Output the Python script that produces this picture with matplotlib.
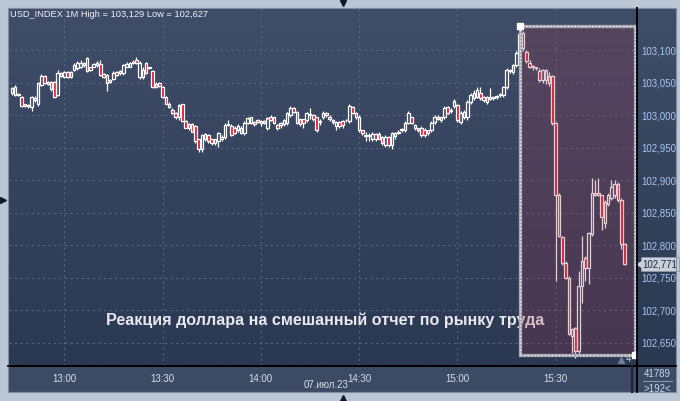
import numpy as np
import matplotlib.pyplot as plt
import matplotlib.patches as patches
import matplotlib.transforms as mtransforms
from matplotlib.colors import LinearSegmentedColormap
from matplotlib.lines import Line2D
from matplotlib.ticker import FuncFormatter

plt.rcParams['font.family'] = ['Liberation Sans', 'DejaVu Sans']

#___1 minute candles, USD_INDEX, 12:44 .. 15:51___#
opens = [
    103.034, 103.043, 103.032, 103.028, 103.017, 103.015, 103.012, 103.026, 103.018, 103.046,
    103.060, 103.051, 103.051, 103.051, 103.031, 103.065, 103.059, 103.066, 103.066, 103.069,
    103.072, 103.074, 103.077, 103.088, 103.074, 103.075, 103.080, 103.079, 103.063, 103.062,
    103.054, 103.056, 103.066, 103.065, 103.065, 103.075, 103.075, 103.080, 103.085, 103.059,
    103.059, 103.080, 103.074, 103.068, 103.048, 103.049, 103.043, 103.028, 103.018, 103.008,
    103.003, 102.997, 103.017, 102.991, 102.986, 102.986, 102.983, 102.963, 102.948, 102.971,
    102.969, 102.963, 102.963, 102.961, 102.966, 102.966, 102.985, 102.983, 102.981, 102.978,
    102.980, 102.972, 102.988, 102.997, 102.989, 102.992, 102.991, 102.991, 102.981, 102.997,
    102.997, 102.985, 102.985, 102.986, 102.988, 103.000, 103.011, 103.005, 102.994, 102.994,
    102.992, 103.000, 103.000, 102.997, 102.991, 102.997, 103.003, 102.998, 102.992, 102.983,
    102.989, 102.991, 102.992, 102.991, 103.012, 103.003, 102.998, 102.977, 102.969, 102.969,
    102.963, 102.971, 102.971, 102.966, 102.954, 102.966, 102.954, 102.972, 102.974, 102.977,
    102.977, 102.988, 102.997, 102.985, 102.980, 102.980, 102.977, 102.977, 102.978, 102.989,
    102.998, 102.997, 102.997, 103.012, 103.006, 103.014, 103.015, 102.989, 102.997, 102.997,
    103.020, 103.026, 103.028, 103.035, 103.028, 103.028, 103.025, 103.026, 103.028, 103.031,
    103.031, 103.043, 103.068, 103.066, 103.077, 103.096, 103.126, 103.097, 103.080, 103.075,
    103.074, 103.068, 103.054, 103.054, 103.060, 103.060, 102.988, 102.878, 102.812, 102.773,
    102.750, 102.661, 102.673, 102.637, 102.738, 102.781, 102.765, 102.818, 102.880, 102.880,
    102.877, 102.835, 102.864, 102.872, 102.877, 102.894, 102.870, 102.802]
highs = [
    103.043, 103.046, 103.034, 103.029, 103.018, 103.017, 103.029, 103.029, 103.051, 103.063,
    103.062, 103.052, 103.052, 103.052, 103.069, 103.066, 103.068, 103.068, 103.068, 103.080,
    103.083, 103.085, 103.082, 103.090, 103.075, 103.080, 103.083, 103.085, 103.065, 103.063,
    103.056, 103.068, 103.068, 103.069, 103.079, 103.082, 103.082, 103.085, 103.090, 103.083,
    103.074, 103.082, 103.075, 103.069, 103.051, 103.051, 103.045, 103.029, 103.020, 103.011,
    103.005, 103.017, 103.018, 102.992, 102.988, 102.988, 102.985, 102.964, 102.971, 102.972,
    102.971, 102.964, 102.964, 102.974, 102.969, 102.988, 102.992, 102.986, 102.983, 102.986,
    102.983, 102.991, 102.998, 102.998, 102.991, 102.994, 102.992, 102.992, 102.998, 103.000,
    102.998, 102.986, 102.989, 102.994, 103.005, 103.014, 103.012, 103.006, 102.995, 102.995,
    103.005, 103.011, 103.002, 102.998, 102.994, 103.006, 103.005, 103.000, 102.994, 102.991,
    102.991, 102.992, 102.995, 103.017, 103.014, 103.005, 103.000, 102.978, 102.974, 102.972,
    102.974, 102.972, 102.974, 102.968, 102.969, 102.968, 102.975, 102.974, 102.977, 102.980,
    102.991, 103.006, 102.998, 102.986, 102.981, 102.983, 102.980, 102.978, 102.991, 103.000,
    103.000, 102.998, 103.014, 103.014, 103.011, 103.025, 103.017, 103.006, 103.008, 103.023,
    103.035, 103.039, 103.043, 103.043, 103.029, 103.029, 103.042, 103.029, 103.031, 103.034,
    103.045, 103.072, 103.071, 103.079, 103.099, 103.129, 103.129, 103.100, 103.085, 103.077,
    103.075, 103.072, 103.071, 103.071, 103.066, 103.062, 102.989, 102.880, 102.815, 102.776,
    102.752, 102.673, 102.675, 102.761, 102.815, 102.783, 102.821, 102.903, 102.900, 102.903,
    102.878, 102.869, 102.881, 102.900, 102.901, 102.898, 102.872, 102.803]
lows = [
    103.031, 103.029, 103.029, 103.012, 103.012, 103.011, 103.006, 103.020, 103.015, 103.045,
    103.048, 103.046, 103.038, 103.026, 103.029, 103.059, 103.057, 103.057, 103.057, 103.068,
    103.069, 103.072, 103.075, 103.066, 103.068, 103.074, 103.075, 103.060, 103.057, 103.037,
    103.049, 103.054, 103.060, 103.062, 103.062, 103.074, 103.074, 103.079, 103.079, 103.056,
    103.056, 103.063, 103.071, 103.042, 103.042, 103.043, 103.026, 103.017, 103.011, 103.002,
    102.995, 102.992, 102.989, 102.980, 102.978, 102.974, 102.957, 102.944, 102.944, 102.961,
    102.958, 102.954, 102.955, 102.951, 102.961, 102.963, 102.983, 102.968, 102.971, 102.975,
    102.971, 102.969, 102.986, 102.986, 102.983, 102.988, 102.983, 102.986, 102.978, 102.991,
    102.986, 102.978, 102.981, 102.983, 102.985, 102.998, 103.003, 102.986, 102.983, 102.981,
    102.989, 102.995, 102.991, 102.975, 102.985, 102.994, 102.998, 102.991, 102.986, 102.978,
    102.981, 102.981, 102.989, 102.988, 103.002, 102.995, 102.975, 102.969, 102.960, 102.961,
    102.960, 102.960, 102.963, 102.954, 102.951, 102.951, 102.948, 102.963, 102.971, 102.974,
    102.975, 102.986, 102.986, 102.978, 102.975, 102.966, 102.966, 102.969, 102.975, 102.986,
    102.992, 102.989, 102.994, 103.002, 103.003, 103.011, 102.989, 102.986, 102.994, 102.992,
    103.017, 103.023, 103.026, 103.023, 103.020, 103.017, 103.023, 103.023, 103.025, 103.028,
    103.028, 103.040, 103.065, 103.063, 103.074, 103.094, 103.099, 103.080, 103.072, 103.069,
    103.069, 103.051, 103.049, 103.048, 103.045, 102.985, 102.745, 102.812, 102.770, 102.748,
    102.662, 102.634, 102.627, 102.630, 102.711, 102.745, 102.741, 102.815, 102.876, 102.876,
    102.823, 102.827, 102.861, 102.869, 102.872, 102.866, 102.795, 102.770]
closes = [
    103.042, 103.031, 103.031, 103.015, 103.014, 103.014, 103.028, 103.023, 103.049, 103.060,
    103.049, 103.048, 103.040, 103.028, 103.065, 103.060, 103.066, 103.059, 103.059, 103.077,
    103.080, 103.080, 103.080, 103.068, 103.069, 103.079, 103.077, 103.062, 103.059, 103.049,
    103.051, 103.065, 103.062, 103.068, 103.077, 103.079, 103.080, 103.082, 103.080, 103.080,
    103.069, 103.065, 103.072, 103.043, 103.043, 103.045, 103.028, 103.018, 103.012, 103.003,
    102.998, 103.015, 102.991, 102.981, 102.981, 102.975, 102.960, 102.948, 102.969, 102.963,
    102.960, 102.957, 102.958, 102.972, 102.964, 102.985, 102.985, 102.969, 102.972, 102.983,
    102.972, 102.988, 102.995, 102.988, 102.986, 102.989, 102.988, 102.988, 102.995, 102.992,
    102.988, 102.980, 102.988, 102.992, 103.003, 103.011, 103.005, 102.988, 102.986, 102.988,
    103.003, 103.000, 102.995, 102.978, 102.989, 103.003, 103.000, 102.995, 102.989, 102.989,
    102.983, 102.985, 102.992, 103.014, 103.003, 102.998, 102.977, 102.972, 102.968, 102.968,
    102.971, 102.963, 102.964, 102.957, 102.966, 102.954, 102.972, 102.968, 102.972, 102.977,
    102.988, 103.003, 102.988, 102.981, 102.977, 102.969, 102.969, 102.972, 102.988, 102.997,
    102.995, 102.992, 103.011, 103.003, 103.008, 103.022, 102.992, 103.003, 103.005, 103.020,
    103.031, 103.035, 103.039, 103.026, 103.023, 103.020, 103.028, 103.028, 103.029, 103.032,
    103.043, 103.069, 103.069, 103.077, 103.096, 103.125, 103.103, 103.083, 103.075, 103.074,
    103.072, 103.054, 103.069, 103.069, 103.049, 102.988, 102.878, 102.815, 102.772, 102.750,
    102.664, 102.671, 102.637, 102.738, 102.776, 102.765, 102.819, 102.880, 102.877, 102.877,
    102.843, 102.866, 102.878, 102.889, 102.894, 102.869, 102.802, 102.771]

first_minute = -16 # first candle 12:44, minutes counted from 13:00
time_ticks = [0, 30, 60, 90, 120, 150]
time_labels = ["13:00", "13:30", "14:00", "14:30", "15:00", "15:30"]
price_ticks = [102.65, 102.70, 102.75, 102.80, 102.85, 102.90, 102.95, 103.00, 103.05, 103.10]

title_text = "USD_INDEX 1M High = 103,129 Low = 102,627"
note_text = "Реакция доллара на смешанный отчет по рынку труда"
date_text = "07.июл.23"

o = np.array(opens); h = np.array(highs); l = np.array(lows); c = np.array(closes)
x = np.arange(len(c)) + first_minute

W, H = 680, 401
fig = plt.figure(figsize=(W / 100, H / 100), dpi=100, facecolor="#bcc7d6")

def box(x0, y0, x1, y1): # pixel box (from top left) -> figure fraction
    return [x0 / W, 1 - y1 / H, (x1 - x0) / W, (y1 - y0) / H]

#___background panels___#
bg = fig.add_axes(box(8, 8, 676, 365))
cmap = LinearSegmentedColormap.from_list("bg", ["#3f4d68", "#2b3852"])
bg.imshow(np.linspace(0, 1, 256)[:, None], aspect="auto", cmap=cmap, extent=[0, 1, 0, 1])
bg.axis("off")

band = fig.add_axes(box(8, 365, 676, 392))
band.set_facecolor("#3d4a64")
band.set_xticks([]); band.set_yticks([])
for s in band.spines.values():
    s.set_visible(False)

#___main chart___#
ax = fig.add_axes(box(9, 8, 637, 365.5))
ax.set_facecolor("none")
ax.set_xlim(-16.87, 174.8)
ax.set_ylim(102.615, 103.165)

ax.set_xticks(time_ticks)
ax.set_xticklabels(time_labels)
ax.set_yticks(price_ticks)
ax.yaxis.set_major_formatter(FuncFormatter(lambda v, p: f"{v:.3f}".replace(".", ",")))
ax.yaxis.tick_right()
ax.tick_params(axis="x", length=0, pad=6, labelsize=7, labelcolor="#d6deea")
ax.tick_params(axis="y", length=0, pad=3, labelsize=7, labelcolor="#a6c6ee")
ax.grid(True, color="#56647f", linestyle=(0, (2, 3)), linewidth=0.8, zorder=0)
for side in ["top", "left"]:
    ax.spines[side].set_visible(False)
ax.spines["right"].set_color("black"); ax.spines["right"].set_linewidth(1.3)
ax.spines["bottom"].set_color("black"); ax.spines["bottom"].set_linewidth(1.3)

#___candles___#
up = c >= o
body_lo = np.minimum(o, c)
body_hi = np.maximum(o, c)
ax.vlines(x, l, body_lo, color="white", linewidth=0.9, zorder=2)
ax.vlines(x, body_hi, h, color="white", linewidth=0.9, zorder=2)
ax.bar(x, np.maximum(body_hi - body_lo, 0.0014), bottom=body_lo, width=0.78,
       color=["none" if u else "#e3122e" for u in up], edgecolor="white", linewidth=0.9, zorder=3)

ax.text(12.7, 102.685, note_text, fontsize=11.6, fontweight="bold", color="#e6e8ee", va="center", zorder=4)

#___highlighted reaction window___#
peak = int(np.argmax(h))
x0, x1 = x[peak], x[-1] + 3.2
y0, y1 = l.min() + 0.004, h.max() + 0.009
ax.add_patch(patches.Rectangle((x0, y0), x1 - x0, y1 - y0, facecolor="#a0324a", alpha=0.24, edgecolor="none", zorder=5))
ax.add_patch(patches.Rectangle((x0, y0), x1 - x0, y1 - y0, facecolor="none", edgecolor="#a4a4ac", linewidth=2.4, zorder=6))
ax.add_patch(patches.Rectangle((x0, y0), x1 - x0, y1 - y0, facecolor="none", edgecolor="#f0f0f0", linewidth=1.0, linestyle=(0, (1, 1.5)), zorder=7))
ax.plot([x0, x1], [y1, y0], linestyle="none", marker="s", markersize=4.5, color="white", zorder=8)

#___last price tag___#
tr = mtransforms.blended_transform_factory(ax.transAxes, ax.transData)
ax.text(1.009, c[-1], f"{c[-1]:.3f}".replace(".", ","), transform=tr, fontsize=7, color="#1e2838",
        ha="left", va="center", zorder=9, clip_on=False,
        bbox=dict(boxstyle="square,pad=0.18", facecolor="#c9d0da", edgecolor="#8a98ae", linewidth=0.6))
ax.plot([1.003], [c[-1]], transform=tr, marker="<", markersize=5, color="#c9d0da", clip_on=False, zorder=9)

#___frame bits___#
fig.add_artist(Line2D([637 / W, 637 / W], [1 - 8 / H, 1 - 392 / H], color="black", linewidth=1.3))
fig.add_artist(Line2D([8 / W, 676 / W], [1 - 365.5 / H, 1 - 365.5 / H], color="black", linewidth=1.3))
fig.add_artist(Line2D([632 / W, 632 / W], [1 - 366 / H, 1 - 392 / H], color="#1d2535", linewidth=1.6))
fig.add_artist(patches.Rectangle((8 / W, 1 - 392 / H), 668 / W, 384 / H, transform=fig.transFigure,
                                 facecolor="none", edgecolor="#7f8da3", linewidth=0.8))
fig.add_artist(Line2D([643 / W, 672 / W], [1 - 381 / H, 1 - 381 / H], color="#8898b0", linewidth=0.8))
fig.text(657 / W, 1 - 374 / H, "41789", fontsize=7, color="#c6d6ee", ha="center", va="center")
fig.text(657 / W, 1 - 389 / H, ">192<", fontsize=7, color="#c6d6ee", ha="center", va="center")
fig.text(304 / W, 1 - 385 / H, date_text, fontsize=7, color="#d6deea", ha="left", va="center")
fig.text(10 / W, 1 - 14.5 / H, title_text, fontsize=6.7, color="#f2f4f8", ha="left", va="center")
fig.text(629 / W, 1 - 359 / H, "4", fontsize=7, color="#c6d0e0", ha="center", va="center")
fig.add_artist(Line2D([621 / W], [1 - 360 / H], marker="^", markersize=4, color="#6d7d96", linestyle="none"))
fig.add_artist(Line2D([343 / W], [1 - 3 / H], marker="v", markersize=5, color="#111a26", linestyle="none"))
fig.add_artist(Line2D([343 / W], [1 - 398 / H], marker="^", markersize=5, color="#111a26", linestyle="none"))
fig.add_artist(Line2D([3 / W], [1 - 200 / H], marker=">", markersize=4, color="#111a26", linestyle="none"))

fig.savefig("out.png", dpi=100, facecolor=fig.get_facecolor())
